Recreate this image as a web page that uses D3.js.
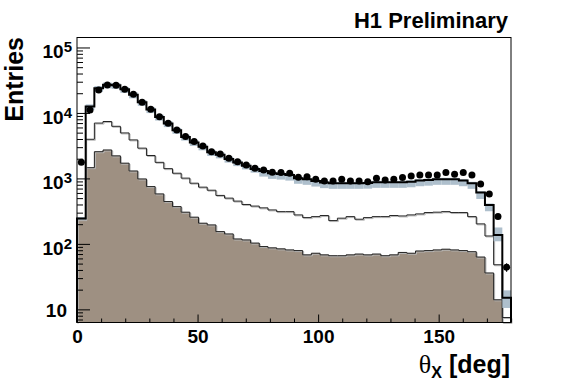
<!DOCTYPE html>
<html>
<head>
<meta charset="utf-8">
<script src="https://cdn.jsdelivr.net/npm/d3@7"></script>
<style>
body { margin: 0; background: #fff; }
text { font-family: "Liberation Sans", Arial, sans-serif; font-weight: bold; fill: #000; }
</style>
</head>
<body>
<script>
var w = 567, h = 384;

// 50 bins of 3.6 deg, theta_X from 0 to 180
var nBins = 50, binWidth = 3.6;

// data points (black dots)
var dataVals = [1770, 11100, 22400, 26700, 26500, 23000, 19300, 14600, 11400, 8780,
                6960, 5500, 4350, 3650, 3130, 2560, 2370, 2030, 1800, 1610,
                1430, 1350, 1240, 1230, 1200, 1040, 1060, 970, 916, 916,
                970, 916, 916, 893, 1007, 945, 970, 1030, 1090, 1130,
                1130, 1130, 1230, 1160, 1230, 1130, 824, 580, 261, 44];

// total MC (thick line)
var mcTotal = [245, 12500, 23800, 27000, 26500, 23000, 19000, 14600, 11300, 8700,
               6900, 5450, 4300, 3550, 3050, 2500, 2300, 1980, 1750, 1560,
               1390, 1300, 1200, 1170, 1130, 1010, 973, 916, 866, 845,
               845, 845, 845, 850, 875, 875, 875, 875, 893, 927,
               945, 973, 973, 973, 927, 845, 607, 394, 137, 15];

// relative uncertainty of total MC (band), up and down
var bandUp = [0.05, 0.08, 0.08, 0.08, 0.08, 0.08, 0.08, 0.08, 0.08, 0.08,
              0.08, 0.08, 0.08, 0.08, 0.08, 0.08, 0.08, 0.08, 0.08, 0.08,
              0.08, 0.05, 0.05, 0.05, 0.05, 0.05, 0.05, 0.05, 0.05, 0.05,
              0.05, 0.05, 0.05, 0.05, 0.05, 0.05, 0.05, 0.05, 0.05, 0.05,
              0.05, 0.05, 0.05, 0.05, 0.05, 0.05, 0.05, 0.05, 0.30, 0.30];
var bandDn = [0.05, 0.12, 0.12, 0.12, 0.12, 0.12, 0.12, 0.12, 0.12, 0.12,
              0.12, 0.12, 0.12, 0.12, 0.12, 0.12, 0.12, 0.12, 0.12, 0.12,
              0.12, 0.18, 0.18, 0.18, 0.18, 0.18, 0.18, 0.18, 0.18, 0.18,
              0.18, 0.18, 0.18, 0.18, 0.18, 0.18, 0.18, 0.18, 0.18, 0.18,
              0.18, 0.18, 0.18, 0.18, 0.18, 0.18, 0.20, 0.20, 0.20, 0.30];

// middle component (thin line)
var mcThin = [240, 3960, 7000, 7400, 6250, 4950, 3870, 2900, 2240, 1760,
              1410, 1200, 1010, 845, 735, 660, 550, 500, 450, 400,
              378, 355, 330, 311, 311, 277, 252, 261, 271, 227,
              247, 261, 238, 252, 261, 261, 271, 267, 277, 287,
              301, 305, 311, 301, 301, 261, 202, 132, 48, 7.5];

// lowest component (brown fill)
var mcBrown = [235, 1460, 2560, 2720, 2210, 1710, 1300, 982, 750, 580,
               443, 371, 305, 256, 207, 195, 154, 142, 119, 115,
               103, 91, 87, 84, 81, 79, 68, 72, 68, 66,
               66, 68, 70, 68, 70, 66, 68, 74, 72, 78,
               79, 81, 83, 81, 79, 76, 63, 36, 14, 0];

var xMajor = [0, 50, 100, 150];
var xMinor = [10, 20, 30, 40, 60, 70, 80, 90, 110, 120, 130, 140, 160, 170];
var yMajor = [10, 100, 1000, 10000, 100000];
var yMajorExp = ["", "2", "3", "4", "5"];
var yMinor = [7, 8, 9, 20, 30, 40, 50, 60, 70, 80, 90,
              200, 300, 400, 500, 600, 700, 800, 900,
              2000, 3000, 4000, 5000, 6000, 7000, 8000, 9000,
              20000, 30000, 40000, 50000, 60000, 70000, 80000, 90000];

var yMin = 6.3, yMax = 1.42e5;

var svg = d3.select("body").append("svg")
            .attr("width", w)
            .attr("height", h);

svg.append("rect")
   .attr("width", w)
   .attr("height", h)
   .attr("fill", "#fff");

var x = d3.scaleLinear().domain([0, 180]).range([77, 511]);
var y = d3.scaleLog().domain([yMin, yMax]).range([322.5, 37.5]);

function yv(v) { return y(Math.max(v, yMin)); }

var edges = d3.range(nBins + 1).map(function(i) { return i * binWidth; });

function stepPts(vals) {
    var pts = [[edges[0], yMin]];
    vals.forEach(function(v, i) { pts.push([edges[i], v]); });
    pts.push([edges[nBins], vals[nBins - 1]]);
    pts.push([edges[nBins], yMin]);
    return pts;
}

var stepLine = d3.line()
                 .x(function(d) { return x(d[0]); })
                 .y(function(d) { return yv(d[1]); })
                 .curve(d3.curveStepAfter);

var stepArea = d3.area()
                 .x(function(d) { return x(d[0]); })
                 .y0(y(yMin))
                 .y1(function(d) { return yv(d[1]); })
                 .curve(d3.curveStepAfter);

var plot = svg.append("g");

// brown component
plot.append("path")
    .attr("d", stepArea(stepPts(mcBrown)))
    .attr("fill", "#9e9082");

plot.append("path")
    .attr("d", stepLine(stepPts(mcBrown)))
    .attr("transform", "translate(1,1)")
    .attr("fill", "none")
    .attr("stroke", "#b8b8b8")
    .attr("stroke-width", 1);

plot.append("path")
    .attr("d", stepLine(stepPts(mcBrown)))
    .attr("fill", "none")
    .attr("stroke", "#222")
    .attr("stroke-width", 1);

// thin line component
plot.append("path")
    .attr("d", stepLine(stepPts(mcThin)))
    .attr("transform", "translate(1,1)")
    .attr("fill", "none")
    .attr("stroke", "#b8b8b8")
    .attr("stroke-width", 1);

plot.append("path")
    .attr("d", stepLine(stepPts(mcThin)))
    .attr("fill", "none")
    .attr("stroke", "#222")
    .attr("stroke-width", 1);

// uncertainty band of total MC
plot.selectAll("rect.band")
    .data(mcTotal)
    .enter()
    .append("rect")
    .attr("class", "band")
    .attr("x", function(d, i) { return x(edges[i]); })
    .attr("width", function(d, i) { return x(edges[i + 1]) - x(edges[i]); })
    .attr("y", function(d, i) { return yv(d * (1 + bandUp[i])); })
    .attr("height", function(d, i) { return yv(d * (1 - bandDn[i])) - yv(d * (1 + bandUp[i])); })
    .attr("fill", "#aebfcc");

// total MC
plot.append("path")
    .attr("d", stepLine(stepPts(mcTotal)))
    .attr("fill", "none")
    .attr("stroke", "#000")
    .attr("stroke-width", 2);

// data points
var pts = plot.selectAll("g.pt")
              .data(dataVals)
              .enter()
              .append("g")
              .attr("class", "pt");

pts.append("line")
   .attr("x1", function(d, i) { return x(edges[i] + binWidth / 2); })
   .attr("x2", function(d, i) { return x(edges[i] + binWidth / 2); })
   .attr("y1", function(d) { return yv(d + Math.sqrt(d)); })
   .attr("y2", function(d) { return yv(d - Math.sqrt(d)); })
   .attr("stroke", "#000")
   .attr("stroke-width", 1);

pts.append("circle")
   .attr("cx", function(d, i) { return x(edges[i] + binWidth / 2); })
   .attr("cy", function(d) { return yv(d); })
   .attr("r", 3.5)
   .attr("fill", "#000");

// frame
svg.append("rect")
   .attr("x", 77)
   .attr("y", 37.5)
   .attr("width", 434)
   .attr("height", 285)
   .attr("fill", "none")
   .attr("stroke", "#000")
   .attr("stroke-width", 1);

// x axis ticks (inward)
var xMinorAxis = svg.append("g")
                    .attr("transform", "translate(0,322.5)")
                    .call(d3.axisBottom(x).tickValues(xMinor).tickSize(-4).tickFormat(""));
xMinorAxis.select(".domain").remove();

var xMajorAxis = svg.append("g")
                    .attr("transform", "translate(0,322.5)")
                    .call(d3.axisBottom(x).tickValues(xMajor).tickSize(-8).tickPadding(7));
xMajorAxis.select(".domain").remove();
xMajorAxis.selectAll("text")
          .attr("font-size", 19)
          .attr("font-family", "Liberation Sans, Arial, sans-serif")
          .attr("font-weight", "bold")
          .attr("fill", "#000");

// y axis ticks (inward)
var yMinorAxis = svg.append("g")
                    .attr("transform", "translate(77,0)")
                    .call(d3.axisLeft(y).tickValues(yMinor).tickSize(-6).tickFormat(""));
yMinorAxis.select(".domain").remove();

var yMajorAxis = svg.append("g")
                    .attr("transform", "translate(77,0)")
                    .call(d3.axisLeft(y).tickValues(yMajor).tickSize(-13).tickFormat(""));
yMajorAxis.select(".domain").remove();

svg.selectAll(".tick line").attr("stroke", "#000");

// y tick labels with superscript exponents
var yLab = svg.selectAll("text.ylab")
              .data(yMajor)
              .enter()
              .append("text")
              .attr("class", "ylab")
              .attr("x", function(d, i) { return yMajorExp[i] === "" ? 67 : 72; })
              .attr("y", function(d, i) { return y(d) + (yMajorExp[i] === "" ? 7.5 : 11); })
              .attr("text-anchor", "end")
              .attr("font-size", 19);

yLab.append("tspan").text("10");
yLab.append("tspan")
    .attr("dy", -6)
    .attr("font-size", 15)
    .text(function(d, i) { return yMajorExp[i]; });

// titles
svg.append("text")
   .attr("transform", "translate(23,37) rotate(-90)")
   .attr("text-anchor", "end")
   .attr("font-size", 25)
   .text("Entries");

var xTitle = svg.append("text")
                .attr("x", 510)
                .attr("y", 373)
                .attr("text-anchor", "end")
                .attr("font-size", 25);
xTitle.append("tspan")
      .attr("font-family", "Liberation Serif, serif")
      .attr("font-weight", "normal")
      .attr("font-size", 26)
      .text("\u03b8");
xTitle.append("tspan")
      .attr("dy", 5)
      .attr("font-size", 16)
      .text("X");
xTitle.append("tspan")
      .attr("dy", -5)
      .text(" [deg]");

svg.append("text")
   .attr("x", 508)
   .attr("y", 28)
   .attr("text-anchor", "end")
   .attr("font-size", 22)
   .text("H1 Preliminary");
</script>
</body>
</html>
